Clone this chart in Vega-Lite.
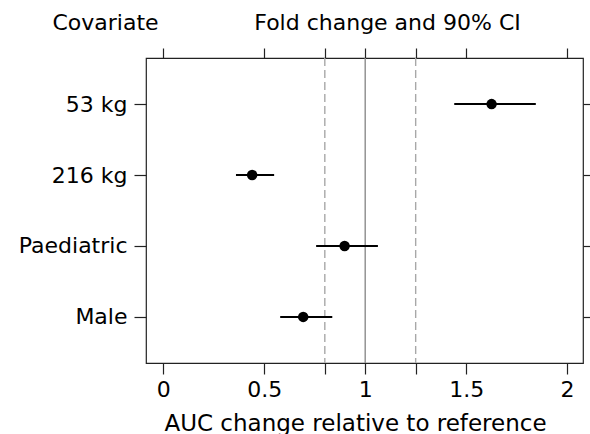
{
  "$schema": "https://vega.github.io/schema/vega-lite/v6.json",
  "autosize": "none",
  "width": 437,
  "height": 305,
  "padding": {"left": 146, "top": 58, "right": 7, "bottom": 71},
  "background": "white",
  "config": {
    "view": {"stroke": "#222222", "strokeWidth": 1.2},
    "font": "DejaVu Sans",
    "axis": {
      "domain": false,
      "grid": false,
      "labelFont": "DejaVu Sans",
      "titleFont": "DejaVu Sans",
      "labelFontSize": 22,
      "titleFontSize": 22,
      "titleFontWeight": "normal",
      "labelColor": "#000000",
      "titleColor": "#000000",
      "tickColor": "#222222",
      "tickWidth": 1.2
    }
  },
  "datasets": {
    "est": [
      {"covariate": "53 kg", "fold": 1.626, "lo": 1.441, "hi": 1.845},
      {"covariate": "216 kg", "fold": 0.44, "lo": 0.36, "hi": 0.549},
      {"covariate": "Paediatric", "fold": 0.898, "lo": 0.757, "hi": 1.063},
      {"covariate": "Male", "fold": 0.693, "lo": 0.579, "hi": 0.837}
    ],
    "refs": [
      {"ref": 0.8, "kind": "limit"},
      {"ref": 1.0, "kind": "null"},
      {"ref": 1.25, "kind": "limit"}
    ]
  },
  "layer": [
    {
      "data": {"name": "refs"},
      "mark": {"type": "rule", "strokeWidth": 1.4},
      "encoding": {
        "x": {"field": "ref", "type": "quantitative", "axis": null,
              "scale": {"domain": [-0.0856, 2.0787], "nice": false, "zero": false}},
        "strokeDash": {"field": "kind", "type": "nominal", "legend": null,
                       "scale": {"domain": ["limit", "null"], "range": [[8, 4], [1, 0]]}},
        "color": {"field": "kind", "type": "nominal", "legend": null,
                  "scale": {"domain": ["limit", "null"], "range": ["#a8a8a8", "#8c8c8c"]}}
      }
    },
    {
      "data": {"name": "est"},
      "mark": {"type": "rule", "color": "#000000", "strokeWidth": 2},
      "encoding": {
        "y": {"field": "covariate", "type": "nominal",
              "sort": ["53 kg", "216 kg", "Paediatric", "Male"],
              "scale": {"type": "point", "padding": 0.65},
              "axis": {"orient": "left", "title": "Covariate", "titleAngle": 0,
                       "titleAlign": "center", "titleBaseline": "alphabetic",
                       "titleX": -41, "titleY": -29,
                       "tickSize": 12, "labelPadding": 7}},
        "x": {"field": "lo", "type": "quantitative",
              "scale": {"domain": [-0.0856, 2.0787], "nice": false, "zero": false},
              "axis": {"orient": "bottom", "title": "AUC change relative to reference",
                       "titleFontSize": 23,
                       "values": [0, 0.5, 0.8, 1, 1.25, 1.5, 2],
                       "labelExpr": "datum.value == 0.8 || datum.value == 1.25 ? '' : format(datum.value, '~g')",
                       "tickSize": 11, "labelPadding": 5, "labelFlush": false,
                       "titleX": 209, "titleBaseline": "alphabetic", "titleY": 67}},
        "x2": {"field": "hi"}
      }
    },
    {
      "data": {"name": "est"},
      "mark": {"type": "point", "filled": true, "shape": "circle", "size": 110, "color": "#000000", "opacity": 1},
      "encoding": {
        "y": {"field": "covariate", "type": "nominal",
              "sort": ["53 kg", "216 kg", "Paediatric", "Male"],
              "scale": {"type": "point", "padding": 0.65},
              "axis": {"orient": "right", "title": null, "labels": false, "tickSize": 8}},
        "x": {"field": "fold", "type": "quantitative",
              "scale": {"domain": [-0.0856, 2.0787], "nice": false, "zero": false},
              "axis": {"orient": "top", "title": "Fold change and 90% CI",
                       "values": [0, 0.5, 0.8, 1, 1.25, 1.5, 2], "labels": false,
                       "tickSize": 10, "titleAlign": "center", "titleBaseline": "alphabetic",
                       "titleX": 241, "titleY": -29}}
      }
    }
  ],
  "resolve": {"axis": {"x": "independent", "y": "independent"}}
}
